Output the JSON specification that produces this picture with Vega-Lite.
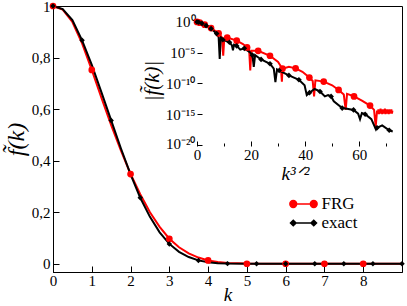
{
  "$schema": "https://vega.github.io/schema/vega-lite/v6.json",
  "width": 349,
  "height": 266,
  "autosize": "none",
  "padding": {"left": 53, "top": 6, "right": 5, "bottom": 34},
  "background": "white",
  "config": {
    "view": {"stroke": "black", "strokeWidth": 1},
    "font": "Liberation Serif",
    "axis": {"grid": false, "domainColor": "black", "tickColor": "black", "labelColor": "black", "titleColor": "black", "labelFont": "Liberation Serif", "titleFont": "Liberation Serif", "titleFontWeight": "normal"}
  },
  "datasets": {
    "mainLine": [
      {"k": 0, "f": 1, "s": "FRG"}, {"k": 0.25, "f": 0.986, "s": "FRG"}, {"k": 0.5, "f": 0.938, "s": "FRG"}, {"k": 0.75, "f": 0.855, "s": "FRG"}, {"k": 1, "f": 0.752, "s": "FRG"}, {"k": 1.25, "f": 0.643, "s": "FRG"}, {"k": 1.5, "f": 0.538, "s": "FRG"}, {"k": 1.75, "f": 0.44, "s": "FRG"}, {"k": 2, "f": 0.348, "s": "FRG"}, {"k": 2.25, "f": 0.27, "s": "FRG"}, {"k": 2.5, "f": 0.2, "s": "FRG"}, {"k": 2.75, "f": 0.143, "s": "FRG"}, {"k": 3, "f": 0.097, "s": "FRG"}, {"k": 3.25, "f": 0.064, "s": "FRG"}, {"k": 3.5, "f": 0.04, "s": "FRG"}, {"k": 3.75, "f": 0.024, "s": "FRG"}, {"k": 4, "f": 0.013, "s": "FRG"}, {"k": 4.25, "f": 0.007, "s": "FRG"}, {"k": 4.5, "f": 0.003, "s": "FRG"}, {"k": 5, "f": 0.0005, "s": "FRG"}, {"k": 5.5, "f": 0, "s": "FRG"}, {"k": 9, "f": 0, "s": "FRG"},
      {"k": 0, "f": 1, "s": "exact"}, {"k": 0.25, "f": 0.988, "s": "exact"}, {"k": 0.5, "f": 0.945, "s": "exact"}, {"k": 0.75, "f": 0.867, "s": "exact"}, {"k": 1, "f": 0.772, "s": "exact"}, {"k": 1.25, "f": 0.665, "s": "exact"}, {"k": 1.5, "f": 0.556, "s": "exact"}, {"k": 1.75, "f": 0.448, "s": "exact"}, {"k": 2, "f": 0.347, "s": "exact"}, {"k": 2.25, "f": 0.256, "s": "exact"}, {"k": 2.5, "f": 0.182, "s": "exact"}, {"k": 2.75, "f": 0.122, "s": "exact"}, {"k": 3, "f": 0.077, "s": "exact"}, {"k": 3.25, "f": 0.046, "s": "exact"}, {"k": 3.5, "f": 0.026, "s": "exact"}, {"k": 3.75, "f": 0.013, "s": "exact"}, {"k": 4, "f": 0.006, "s": "exact"}, {"k": 4.25, "f": 0.002, "s": "exact"}, {"k": 4.5, "f": 0.0005, "s": "exact"}, {"k": 5, "f": 0, "s": "exact"}, {"k": 9, "f": 0, "s": "exact"}
    ],
    "mainPts": [
      {"k": 0, "f": 1, "s": "FRG"}, {"k": 1, "f": 0.752, "s": "FRG"}, {"k": 2, "f": 0.348, "s": "FRG"}, {"k": 3, "f": 0.097, "s": "FRG"}, {"k": 4, "f": 0.013, "s": "FRG"}, {"k": 5, "f": 0, "s": "FRG"}, {"k": 6, "f": 0, "s": "FRG"}, {"k": 7, "f": 0, "s": "FRG"}, {"k": 8, "f": 0, "s": "FRG"},
      {"k": 0, "f": 1, "s": "exact"}, {"k": 0.75, "f": 0.867, "s": "exact"}, {"k": 1.5, "f": 0.556, "s": "exact"}, {"k": 2.25, "f": 0.256, "s": "exact"}, {"k": 3, "f": 0.077, "s": "exact"}, {"k": 3.75, "f": 0.013, "s": "exact"}, {"k": 4.5, "f": 0.0005, "s": "exact"}, {"k": 5.25, "f": 0, "s": "exact"}, {"k": 6, "f": 0, "s": "exact"}, {"k": 6.75, "f": 0, "s": "exact"}, {"k": 7.5, "f": 0, "s": "exact"}, {"k": 8.25, "f": 0, "s": "exact"}, {"k": 9, "f": 0, "s": "exact"}
    ],
    "insetLine": [
      {"k32": 0, "log10f": 0, "s": "FRG"}, {"k32": 1, "log10f": -0.12, "s": "FRG"}, {"k32": 2.83, "log10f": -0.46, "s": "FRG"}, {"k32": 5.2, "log10f": -1.0, "s": "FRG"}, {"k32": 8, "log10f": -1.85, "s": "FRG"}, {"k32": 9.2, "log10f": -2.5, "s": "FRG"}, {"k32": 9.7, "log10f": -5.5, "s": "FRG"}, {"k32": 10.1, "log10f": -2.6, "s": "FRG"}, {"k32": 11.18, "log10f": -2.55, "s": "FRG"}, {"k32": 14.7, "log10f": -3.05, "s": "FRG"}, {"k32": 17, "log10f": -3.6, "s": "FRG"}, {"k32": 18.52, "log10f": -4.15, "s": "FRG"}, {"k32": 19.3, "log10f": -4.6, "s": "FRG"}, {"k32": 19.7, "log10f": -7.9, "s": "FRG"}, {"k32": 20.1, "log10f": -4.7, "s": "FRG"}, {"k32": 22.63, "log10f": -4.7, "s": "FRG"}, {"k32": 27, "log10f": -5.5, "s": "FRG"}, {"k32": 30, "log10f": -6.5, "s": "FRG"}, {"k32": 31.0, "log10f": -7.2, "s": "FRG"}, {"k32": 31.4, "log10f": -9.7, "s": "FRG"}, {"k32": 31.62, "log10f": -7.6, "s": "FRG"}, {"k32": 34, "log10f": -7.3, "s": "FRG"}, {"k32": 36.48, "log10f": -7.55, "s": "FRG"}, {"k32": 39, "log10f": -8.1, "s": "FRG"}, {"k32": 41.57, "log10f": -9.05, "s": "FRG"}, {"k32": 42.8, "log10f": -9.6, "s": "FRG"}, {"k32": 43.3, "log10f": -12.1, "s": "FRG"}, {"k32": 43.8, "log10f": -9.5, "s": "FRG"}, {"k32": 46.87, "log10f": -9.7, "s": "FRG"}, {"k32": 50, "log10f": -10.3, "s": "FRG"}, {"k32": 52.38, "log10f": -11.05, "s": "FRG"}, {"k32": 54.3, "log10f": -11.8, "s": "FRG"}, {"k32": 55, "log10f": -14.3, "s": "FRG"}, {"k32": 55.5, "log10f": -11.7, "s": "FRG"}, {"k32": 58.09, "log10f": -12.1, "s": "FRG"}, {"k32": 61, "log10f": -12.8, "s": "FRG"}, {"k32": 64, "log10f": -13.6, "s": "FRG"}, {"k32": 65.5, "log10f": -14.3, "s": "FRG"}, {"k32": 66.1, "log10f": -17.0, "s": "FRG"}, {"k32": 66.6, "log10f": -14.4, "s": "FRG"}, {"k32": 66.9, "log10f": -14.9, "s": "FRG"}, {"k32": 67.1, "log10f": -14.2, "s": "FRG"}, {"k32": 67.3, "log10f": -15.0, "s": "FRG"}, {"k32": 67.5, "log10f": -14.3, "s": "FRG"}, {"k32": 67.7, "log10f": -14.9, "s": "FRG"}, {"k32": 67.9, "log10f": -14.1, "s": "FRG"}, {"k32": 68.1, "log10f": -14.8, "s": "FRG"}, {"k32": 68.3, "log10f": -14.3, "s": "FRG"}, {"k32": 68.5, "log10f": -15.0, "s": "FRG"}, {"k32": 68.7, "log10f": -14.2, "s": "FRG"}, {"k32": 68.9, "log10f": -14.9, "s": "FRG"}, {"k32": 69.1, "log10f": -14.3, "s": "FRG"}, {"k32": 69.3, "log10f": -14.8, "s": "FRG"}, {"k32": 69.5, "log10f": -14.1, "s": "FRG"}, {"k32": 69.7, "log10f": -15.0, "s": "FRG"}, {"k32": 69.9, "log10f": -14.3, "s": "FRG"}, {"k32": 70.1, "log10f": -14.9, "s": "FRG"}, {"k32": 70.3, "log10f": -14.2, "s": "FRG"}, {"k32": 70.5, "log10f": -14.8, "s": "FRG"}, {"k32": 70.7, "log10f": -14.3, "s": "FRG"}, {"k32": 70.9, "log10f": -15.0, "s": "FRG"}, {"k32": 71.1, "log10f": -14.2, "s": "FRG"}, {"k32": 71.3, "log10f": -14.9, "s": "FRG"}, {"k32": 71.5, "log10f": -14.3, "s": "FRG"}, {"k32": 71.7, "log10f": -14.8, "s": "FRG"}, {"k32": 71.9, "log10f": -14.2, "s": "FRG"}, {"k32": 72.1, "log10f": -14.9, "s": "FRG"}, {"k32": 72.3, "log10f": -14.4, "s": "FRG"},
      {"k32": 0, "log10f": 0, "s": "exact"}, {"k32": 0.65, "log10f": -0.06, "s": "exact"}, {"k32": 1.84, "log10f": -0.25, "s": "exact"}, {"k32": 3.375, "log10f": -0.6, "s": "exact"}, {"k32": 5.2, "log10f": -1.1, "s": "exact"}, {"k32": 7.26, "log10f": -1.9, "s": "exact"}, {"k32": 8.0, "log10f": -2.5, "s": "exact"}, {"k32": 8.4, "log10f": -6.0, "s": "exact"}, {"k32": 8.8, "log10f": -2.5, "s": "exact"}, {"k32": 9.55, "log10f": -2.9, "s": "exact"}, {"k32": 12.0, "log10f": -3.3, "s": "exact"}, {"k32": 12.9, "log10f": -3.8, "s": "exact"}, {"k32": 13.3, "log10f": -4.6, "s": "exact"}, {"k32": 13.7, "log10f": -3.7, "s": "exact"}, {"k32": 14.7, "log10f": -3.9, "s": "exact"}, {"k32": 16.0, "log10f": -4.5, "s": "exact"}, {"k32": 17.5, "log10f": -4.3, "s": "exact"}, {"k32": 19.5, "log10f": -4.9, "s": "exact"}, {"k32": 20.5, "log10f": -5.4, "s": "exact"}, {"k32": 21.0, "log10f": -7.3, "s": "exact"}, {"k32": 21.5, "log10f": -5.4, "s": "exact"}, {"k32": 23.7, "log10f": -6.1, "s": "exact"}, {"k32": 27.0, "log10f": -6.8, "s": "exact"}, {"k32": 28.4, "log10f": -7.6, "s": "exact"}, {"k32": 29.0, "log10f": -9.8, "s": "exact"}, {"k32": 29.6, "log10f": -7.7, "s": "exact"}, {"k32": 30.4, "log10f": -7.9, "s": "exact"}, {"k32": 34.0, "log10f": -8.7, "s": "exact"}, {"k32": 37.7, "log10f": -9.4, "s": "exact"}, {"k32": 39.8, "log10f": -10.3, "s": "exact"}, {"k32": 40.6, "log10f": -11.9, "s": "exact"}, {"k32": 41.6, "log10f": -11.5, "s": "exact"}, {"k32": 43.5, "log10f": -10.9, "s": "exact"}, {"k32": 45.5, "log10f": -11.3, "s": "exact"}, {"k32": 47.3, "log10f": -12.1, "s": "exact"}, {"k32": 48.5, "log10f": -11.9, "s": "exact"}, {"k32": 49.6, "log10f": -12.1, "s": "exact"}, {"k32": 50.6, "log10f": -12.9, "s": "exact"}, {"k32": 53.7, "log10f": -14.0, "s": "exact"}, {"k32": 55.5, "log10f": -14.1, "s": "exact"}, {"k32": 57.9, "log10f": -14.3, "s": "exact"}, {"k32": 59.6, "log10f": -14.9, "s": "exact"}, {"k32": 60.3, "log10f": -15.8, "s": "exact"}, {"k32": 61.0, "log10f": -14.8, "s": "exact"}, {"k32": 62.2, "log10f": -15.0, "s": "exact"}, {"k32": 64.5, "log10f": -15.8, "s": "exact"}, {"k32": 66.2, "log10f": -17.5, "s": "exact"}, {"k32": 66.6, "log10f": -17.2, "s": "exact"}, {"k32": 68.5, "log10f": -16.8, "s": "exact"}, {"k32": 71.1, "log10f": -17.6, "s": "exact"}, {"k32": 72.4, "log10f": -17.8, "s": "exact"}
    ],
    "insetPts": [
      {"k32": 0, "log10f": 0, "s": "FRG"}, {"k32": 1, "log10f": -0.12, "s": "FRG"}, {"k32": 2.83, "log10f": -0.46, "s": "FRG"}, {"k32": 5.2, "log10f": -1.0, "s": "FRG"}, {"k32": 8, "log10f": -1.85, "s": "FRG"}, {"k32": 11.18, "log10f": -2.55, "s": "FRG"}, {"k32": 14.7, "log10f": -3.05, "s": "FRG"}, {"k32": 18.52, "log10f": -4.15, "s": "FRG"}, {"k32": 22.63, "log10f": -4.7, "s": "FRG"}, {"k32": 27, "log10f": -5.5, "s": "FRG"}, {"k32": 31.62, "log10f": -7.6, "s": "FRG"}, {"k32": 36.48, "log10f": -7.55, "s": "FRG"}, {"k32": 41.57, "log10f": -9.05, "s": "FRG"}, {"k32": 46.87, "log10f": -9.7, "s": "FRG"}, {"k32": 52.38, "log10f": -11.05, "s": "FRG"}, {"k32": 58.09, "log10f": -12.1, "s": "FRG"}, {"k32": 64, "log10f": -13.6, "s": "FRG"},
      {"k32": 0, "log10f": 0, "s": "exact"}, {"k32": 0.65, "log10f": -0.06, "s": "exact"}, {"k32": 1.84, "log10f": -0.25, "s": "exact"}, {"k32": 3.375, "log10f": -0.6, "s": "exact"}, {"k32": 5.2, "log10f": -1.1, "s": "exact"}, {"k32": 7.26, "log10f": -1.9, "s": "exact"}, {"k32": 9.55, "log10f": -2.9, "s": "exact"}, {"k32": 12.0, "log10f": -3.3, "s": "exact"}, {"k32": 14.7, "log10f": -3.9, "s": "exact"}, {"k32": 17.5, "log10f": -4.3, "s": "exact"}, {"k32": 20.5, "log10f": -5.4, "s": "exact"}, {"k32": 23.7, "log10f": -6.1, "s": "exact"}, {"k32": 27.0, "log10f": -6.8, "s": "exact"}, {"k32": 30.4, "log10f": -7.9, "s": "exact"}, {"k32": 34.0, "log10f": -8.7, "s": "exact"}, {"k32": 37.7, "log10f": -9.4, "s": "exact"}, {"k32": 41.6, "log10f": -11.5, "s": "exact"}, {"k32": 45.5, "log10f": -11.3, "s": "exact"}, {"k32": 49.6, "log10f": -12.1, "s": "exact"}, {"k32": 53.7, "log10f": -14.0, "s": "exact"}, {"k32": 57.9, "log10f": -14.3, "s": "exact"}, {"k32": 62.2, "log10f": -15.0, "s": "exact"}, {"k32": 66.6, "log10f": -17.2, "s": "exact"}, {"k32": 71.1, "log10f": -17.6, "s": "exact"}
    ]
  },
  "layer": [
    {
      "layer": [
        {
          "data": {"name": "mainLine"},
          "mark": {"type": "line", "strokeWidth": 2, "clip": false},
          "encoding": {
            "x": {"field": "k", "type": "quantitative",
              "scale": {"domain": [0, 9], "nice": false, "zero": false},
              "axis": {"values": [0, 1, 2, 3, 4, 5, 6, 7, 8], "tickSize": -6, "labelPadding": 7, "labelFontSize": 15, "title": "k", "titleFontStyle": "italic", "titleFontSize": 19, "titlePadding": -3, "labelFlush": false}},
            "y": {"field": "f", "type": "quantitative",
              "scale": {"domain": [-0.032, 1.0], "nice": false, "zero": false},
              "axis": {"values": [0, 0.1, 0.2, 0.3, 0.4, 0.5, 0.6, 0.7, 0.8, 0.9, 1],
                "tickSize": {"condition": {"test": "round(datum.value*10) % 2 == 1", "value": -3}, "value": -6},
                "labelExpr": "round(datum.value*10) % 2 == 1 ? '' : (datum.value == 0 ? '0' : (datum.value == 1 ? '1' : replace(format(datum.value, '.1f'), '.', ',')))",
                "labelPadding": 9, "labelFontSize": 15, "title": "f̃(k)", "titleFontStyle": "italic", "titleFontSize": 24, "titlePadding": 3, "labelFlush": false}},
            "color": {"field": "s", "type": "nominal",
              "scale": {"domain": ["FRG", "exact"], "range": ["#ff0000", "#000000"]},
              "legend": {"orient": "none", "legendX": 239.5, "legendY": 187, "title": null, "labelFontSize": 17, "labelFont": "Liberation Serif", "labelColor": "black", "symbolSize": 420, "labelOffset": 7, "rowPadding": 0, "padding": 0,
                "encode": {"symbols": {"update": {
                  "shape": {"signal": "datum.value === 'FRG' ? 'M -1 0 L 1 0 M -1.33 0 A 0.33 0.33 0 1 0 -0.67 0 A 0.33 0.33 0 1 0 -1.33 0 Z M 0.67 0 A 0.33 0.33 0 1 0 1.33 0 A 0.33 0.33 0 1 0 0.67 0 Z' : 'M -1 0 L 1 0 M -1 -0.27 L -0.73 0 L -1 0.27 L -1.27 0 Z M 1 -0.27 L 1.27 0 L 1 0.27 L 0.73 0 Z'"},
                  "fill": {"signal": "datum.value === 'FRG' ? '#ff0000' : '#000000'"},
                  "stroke": {"signal": "datum.value === 'FRG' ? '#ff0000' : '#000000'"},
                  "strokeWidth": {"value": 1.5},
                  "opacity": {"value": 1},
                  "fillOpacity": {"value": 1}
                }}}}}
          }
        },
        {
          "data": {"name": "mainPts"},
          "transform": [{"filter": "datum.s == 'FRG'"}],
          "mark": {"type": "point", "shape": "circle", "filled": true, "size": 45, "opacity": 1, "clip": false},
          "encoding": {
            "x": {"field": "k", "type": "quantitative"},
            "y": {"field": "f", "type": "quantitative"},
            "color": {"field": "s", "type": "nominal"}
          }
        },
        {
          "data": {"name": "mainPts"},
          "transform": [{"filter": "datum.s == 'exact'"}],
          "mark": {"type": "point", "shape": "diamond", "filled": true, "size": 30, "opacity": 1, "clip": false},
          "encoding": {
            "x": {"field": "k", "type": "quantitative"},
            "y": {"field": "f", "type": "quantitative"},
            "color": {"field": "s", "type": "nominal"}
          }
        }
      ]
    },
    {
      "layer": [
        {
          "mark": {"type": "rect", "fill": "white", "stroke": "black", "strokeWidth": 1},
          "encoding": {
            "x": {"datum": 0, "type": "quantitative",
              "scale": {"domain": [0, 72.5], "range": [144, 340], "nice": false, "zero": false},
              "axis": {"orient": "bottom", "offset": -126, "values": [0, 10, 20, 30, 40, 50, 60, 70],
                "tickSize": {"condition": {"test": "datum.value % 20 != 0", "value": -3}, "value": -5},
                "labelExpr": "datum.value % 20 == 0 ? datum.label : ''",
                "labelPadding": 6, "labelFontSize": 15, "title": "k³ᐟ²", "titleFontStyle": "italic", "titleFontSize": 19, "titlePadding": 2, "labelFlush": false, "domain": false}},
            "x2": {"datum": 72.5},
            "y": {"datum": -20.16, "type": "quantitative",
              "scale": {"domain": [-20.16, 1.12], "range": [140, 9], "nice": false, "zero": false},
              "axis": {"orient": "left", "offset": -144, "values": [0, -5, -10, -15, -20], "tickSize": -5,
                "labelExpr": "datum.value == 0 ? '10⁰' : datum.value == -5 ? '10⁻⁵' : datum.value == -10 ? '10⁻¹⁰' : datum.value == -15 ? '10⁻¹⁵' : '10⁻²⁰'",
                "labelOffset": {"condition": {"test": "datum.value == -20", "value": -2}, "value": 0},
                "labelPadding": 7, "labelFontSize": 15, "title": "|f̃(k)|", "titleFontStyle": "italic", "titleFontSize": 21, "titlePadding": 3, "labelFlush": false, "domain": false}},
            "y2": {"datum": 1.12}
          }
        },
        {
          "data": {"name": "insetLine"},
          "mark": {"type": "line", "strokeWidth": 2, "clip": false},
          "encoding": {
            "x": {"field": "k32", "type": "quantitative"},
            "y": {"field": "log10f", "type": "quantitative"},
            "color": {"field": "s", "type": "nominal"}
          }
        },
        {
          "data": {"name": "insetPts"},
          "transform": [{"filter": "datum.s == 'FRG'"}],
          "mark": {"type": "point", "shape": "circle", "filled": true, "size": 45, "opacity": 1, "clip": false},
          "encoding": {
            "x": {"field": "k32", "type": "quantitative"},
            "y": {"field": "log10f", "type": "quantitative"},
            "color": {"field": "s", "type": "nominal"}
          }
        },
        {
          "data": {"name": "insetPts"},
          "transform": [{"filter": "datum.s == 'exact'"}],
          "mark": {"type": "point", "shape": "diamond", "filled": true, "size": 32, "opacity": 1, "clip": false},
          "encoding": {
            "x": {"field": "k32", "type": "quantitative"},
            "y": {"field": "log10f", "type": "quantitative"},
            "color": {"field": "s", "type": "nominal"}
          }
        }
      ]
    }
  ],
  "resolve": {"scale": {"x": "independent", "y": "independent"}, "axis": {"x": "independent", "y": "independent"}}
}
